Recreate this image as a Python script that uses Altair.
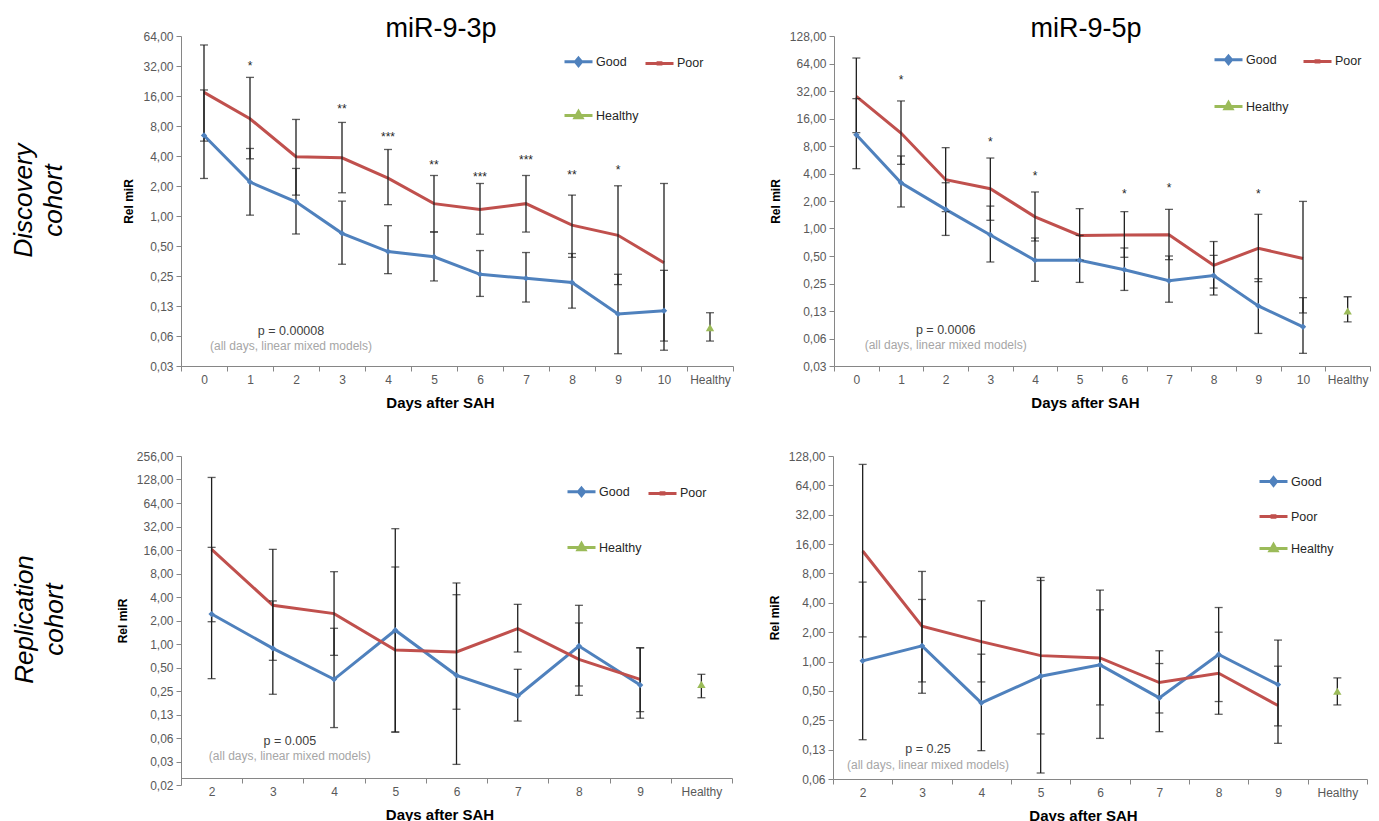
import altair as alt
import pandas as pd

FONT = "Liberation Sans"
BLUE = "#4F81BD"
RED = "#C0504D"
GREEN = "#9BBB59"
BAR = "#1f1f1f"

SERIES = ["Good", "Poor", "Healthy"]
SERIES_COLORS = [BLUE, RED, GREEN]
LEGEND_SYMBOLS = [
    "M-1,0L1,0M0,-0.27L0.22,0L0,0.27L-0.22,0Z",
    "M-1,0L1,0M-0.1,-0.05L0.1,-0.05L0.1,0.05L-0.1,0.05Z",
    "M-1,0L1,0M0,-0.28L0.25,0.16L-0.25,0.16Z",
]

# ---------------- Discovery cohort, miR-9-3p ----------------
P1_DAYS = ["0", "1", "2", "3", "4", "5", "6", "7", "8", "9", "10"]
P1_GOOD = [6.43, 2.19, 1.39, 0.67, 0.44, 0.39, 0.26, 0.237, 0.215, 0.104, 0.112]
P1_GOOD_LO = [2.38, 1.02, 0.66, 0.328, 0.264, 0.223, 0.156, 0.137, 0.119, 0.0415, 0.045]
P1_GOOD_HI = [18.4, 4.76, 3.0, 1.41, 0.80, 0.69, 0.45, 0.43, 0.42, 0.26, 0.285]
P1_POOR = [17.4, 9.46, 3.93, 3.84, 2.40, 1.33, 1.16, 1.33, 0.81, 0.64, 0.34]
P1_POOR_LO = [5.64, 3.75, 1.62, 1.71, 1.30, 0.693, 0.656, 0.69, 0.385, 0.205, 0.0556]
P1_POOR_HI = [52.0, 24.6, 9.31, 8.69, 4.65, 2.55, 2.12, 2.55, 1.62, 2.01, 2.12]
P1_HEALTHY = [0.076, 0.0556, 0.107]  # mean, low, high
P1_STAR_DAYS = ["1", "3", "4", "5", "6", "7", "8", "9"]
P1_STAR_Y = [35.3, 13.0, 6.84, 3.55, 2.73, 3.96, 2.8, 3.14]
P1_STAR_TXT = ["*", "**", "***", "**", "***", "***", "**", "*"]
P1_YTICKS = [64, 32, 16, 8, 4, 2, 1, 0.5, 0.25, 0.125, 0.0625, 0.03125]
P1_YLABELS = ["64,00", "32,00", "16,00", "8,00", "4,00", "2,00", "1,00", "0,50", "0,25", "0,13", "0,06", "0,03"]
P1_P_TEXT = ["p = 0.00008", "(all days, linear mixed models)"]
P1_P_DAY = "2"
P1_P_Y = [0.0697, 0.0491]

# ---------------- Discovery cohort, miR-9-5p ----------------
P2_DAYS = ["0", "1", "2", "3", "4", "5", "6", "7", "8", "9", "10"]
P2_GOOD = [10.6, 3.17, 1.62, 0.85, 0.448, 0.448, 0.354, 0.268, 0.305, 0.142, 0.084]
P2_GOOD_LO = [4.52, 1.72, 0.84, 0.43, 0.264, 0.257, 0.21, 0.156, 0.187, 0.071, 0.043]
P2_GOOD_HI = [26.4, 6.22, 3.17, 1.76, 0.787, 0.84, 0.612, 0.5, 0.508, 0.282, 0.175]
P2_POOR = [28.0, 11.1, 3.42, 2.73, 1.34, 0.84, 0.85, 0.855, 0.395, 0.607, 0.47]
P2_POOR_LO = [11.2, 5.04, 1.53, 1.23, 0.73, 0.45, 0.484, 0.456, 0.223, 0.262, 0.119]
P2_POOR_HI = [73.5, 24.9, 7.67, 5.91, 2.51, 1.65, 1.53, 1.62, 0.72, 1.43, 1.98]
P2_HEALTHY = [0.125, 0.095, 0.179]
P2_STAR_DAYS = ["1", "3", "4", "6", "7", "9"]
P2_STAR_Y = [46.7, 9.87, 4.19, 2.62, 3.04, 2.62]
P2_STAR_TXT = ["*", "*", "*", "*", "*", "*"]
P2_YTICKS = [128, 64, 32, 16, 8, 4, 2, 1, 0.5, 0.25, 0.125, 0.0625, 0.03125]
P2_YLABELS = ["128,00", "64,00", "32,00", "16,00", "8,00", "4,00", "2,00", "1,00", "0,50", "0,25", "0,13", "0,06", "0,03"]
P2_P_TEXT = ["p = 0.0006", "(all days, linear mixed models)"]
P2_P_DAY = "2"
P2_P_Y = [0.077, 0.0525]

# ---------------- Replication cohort, miR-9-3p ----------------
P3_DAYS = ["2", "3", "4", "5", "6", "7", "8", "9"]
P3_GOOD = [2.42, 0.88, 0.353, 1.50, 0.397, 0.216, 0.943, 0.298]
P3_GOOD_LO = [0.36, 0.227, 0.085, 0.0745, 0.0287, 0.103, 0.29, 0.112]
P3_GOOD_HI = [17.3, 3.56, 1.59, 30.0, 6.05, 0.474, 3.13, 0.89]
P3_POOR = [16.3, 3.13, 2.45, 0.838, 0.79, 1.57, 0.636, 0.353]
P3_POOR_LO = [1.93, 0.618, 0.716, 0.0745, 0.146, 0.79, 0.22, 0.136]
P3_POOR_HI = [136.0, 16.3, 8.44, 9.69, 4.28, 3.22, 1.86, 0.898]
P3_HEALTHY = [0.305, 0.205, 0.409]
P3_YTICKS = [256, 128, 64, 32, 16, 8, 4, 2, 1, 0.5, 0.25, 0.125, 0.0625, 0.03125, 0.015625]
P3_YLABELS = ["256,00", "128,00", "64,00", "32,00", "16,00", "8,00", "4,00", "2,00", "1,00", "0,50",
              "0,25", "0,13", "0,06", "0,03", "0,02"]
P3_P_TEXT = ["p = 0.005", "(all days, linear mixed models)"]
P3_P_DAY = "3"
P3_P_Y = [0.057, 0.0368]

# ---------------- Replication cohort, miR-9-5p ----------------
P4_DAYS = ["2", "3", "4", "5", "6", "7", "8", "9"]
P4_GOOD = [1.016, 1.45, 0.377, 0.707, 0.924, 0.424, 1.18, 0.58]
P4_GOOD_LO = [0.158, 0.473, 0.122, 0.072, 0.163, 0.191, 0.389, 0.219]
P4_GOOD_HI = [6.52, 4.33, 1.19, 6.78, 5.4, 0.954, 3.58, 1.66]
P4_POOR = [13.6, 2.31, 1.60, 1.15, 1.09, 0.609, 0.759, 0.354]
P4_POOR_LO = [1.79, 0.618, 0.618, 0.181, 0.359, 0.297, 0.288, 0.145]
P4_POOR_HI = [105.0, 8.39, 4.19, 7.28, 3.39, 1.29, 2.0, 0.896]
P4_HEALTHY = [0.496, 0.359, 0.68]
P4_YTICKS = [128, 64, 32, 16, 8, 4, 2, 1, 0.5, 0.25, 0.125, 0.0625]
P4_YLABELS = ["128,00", "64,00", "32,00", "16,00", "8,00", "4,00", "2,00", "1,00", "0,50", "0,25", "0,13", "0,06"]
P4_P_TEXT = ["p = 0.25", "(all days, linear mixed models)"]
P4_P_DAY = "3"
P4_P_Y = [0.127, 0.0877]

TITLES = ["miR-9-3p", "miR-9-5p"]
ROW_TITLES = [["Discovery", "cohort"], ["Replication", "cohort"]]


def series_frame(days, name, vals, los, his):
    return pd.DataFrame({"day": days, "series": name, "value": vals, "lo": los, "hi": his,
                         "idx": list(range(len(days)))})


def make_panel(days, good, good_lo, good_hi, poor, poor_lo, poor_hi, healthy,
               yticks, ylabels, p_text, p_day, p_y, p_dx,
               width, height, legend_x, legend_y, legend_cols, legend_rowpad, legend_colpad,
               star_days=None, star_y=None, star_txt=None, title=None, x_offset=0):
    cats = days + ["Healthy"]
    good_df = series_frame(days, "Good", good, good_lo, good_hi)
    poor_df = series_frame(days, "Poor", poor, poor_lo, poor_hi)
    healthy_df = series_frame(["Healthy"], "Healthy", [healthy[0]], [healthy[1]], [healthy[2]])
    all_df = pd.concat([good_df, poor_df, healthy_df], ignore_index=True)

    X = alt.X("day:N", sort=cats, bandPosition=0.5,
              scale=alt.Scale(type="band", domain=cats, paddingInner=0, paddingOuter=0),
              axis=alt.Axis(title="Days after SAH", tickBand="extent", labelAngle=0,
                            labelPadding=3, titleFontSize=15, titleFontWeight="bold",
                            titleColor="black", titleX=width / 2 - 17, titleY=29,
                            titleBaseline="top", titleAlign="center", offset=x_offset))
    expr = ("[" + ",".join(repr(l) for l in ylabels) + "][indexof(["
            + ",".join(repr(float(t)) for t in yticks) + "], datum.value)]")

    def Y(field):
        return alt.Y(f"{field}:Q",
                     scale=alt.Scale(type="log", base=2, domain=[min(yticks), max(yticks)], nice=False),
                     axis=alt.Axis(title="Rel miR", values=yticks, labelExpr=expr,
                                   titleFontSize=12, titleFontWeight="bold", titleColor="black",
                                   titlePadding=7, labelPadding=3))

    layers = []
    for df, col in ((good_df, BLUE), (poor_df, RED)):
        layers.append(alt.Chart(df).mark_line(color=col, strokeWidth=3)
                      .encode(x=X, y=Y("value"), order="idx:Q"))
    layers.append(alt.Chart(all_df).mark_rule(color=BAR, strokeWidth=1.3)
                  .encode(x=X, y=Y("lo"), y2="hi:Q"))
    layers.append(alt.Chart(all_df).mark_tick(color=BAR, size=8, thickness=1.3)
                  .encode(x=X, y=Y("lo")))
    layers.append(alt.Chart(all_df).mark_tick(color=BAR, size=8, thickness=1.3)
                  .encode(x=X, y=Y("hi")))
    layers.append(alt.Chart(good_df).mark_point(shape="diamond", filled=True, size=40,
                                                color=BLUE, opacity=1)
                  .encode(x=X, y=Y("value")))
    layers.append(alt.Chart(healthy_df).mark_point(shape="triangle-up", filled=True, size=70,
                                                   color=GREEN, opacity=1)
                  .encode(x=X, y=Y("value")))
    if star_days:
        star_df = pd.DataFrame({"day": star_days, "y": star_y, "label": star_txt})
        layers.append(alt.Chart(star_df).mark_text(fontSize=12, color="#262626", dy=4)
                      .encode(x=X, y=Y("y"), text="label:N"))
    p_df1 = pd.DataFrame({"day": [p_day], "y": [p_y[0]], "label": [p_text[0]]})
    p_df2 = pd.DataFrame({"day": [p_day], "y": [p_y[1]], "label": [p_text[1]]})
    layers.append(alt.Chart(p_df1).mark_text(fontSize=12.5, color="#404040", dx=p_dx)
                  .encode(x=X, y=Y("y"), text="label:N"))
    layers.append(alt.Chart(p_df2).mark_text(fontSize=12, color="#A6A6A6", dx=p_dx)
                  .encode(x=X, y=Y("y"), text="label:N"))

    leg = alt.Legend(title=None, orient="none", legendX=legend_x, legendY=legend_y,
                     direction="horizontal", columns=legend_cols, rowPadding=legend_rowpad,
                     columnPadding=legend_colpad, symbolSize=784, symbolStrokeWidth=3, labelFont=FONT,
                     labelFontSize=12.5, labelColor="#262626", labelOffset=2, padding=0)
    layers.append(alt.Chart(all_df).transform_filter("false")
                  .mark_point(strokeWidth=3, opacity=1)
                  .encode(color=alt.Color("series:N", scale=alt.Scale(domain=SERIES, range=SERIES_COLORS),
                                          legend=leg),
                          shape=alt.Shape("series:N", scale=alt.Scale(domain=SERIES, range=LEGEND_SYMBOLS),
                                          legend=leg)))

    chart = alt.layer(*layers).properties(width=width, height=height)
    if title:
        chart = chart.properties(title=alt.TitleParams(title, fontSize=27, font=FONT, fontWeight="normal",
                                                       color="black", anchor="middle", frame="group",
                                                       offset=-34, dx=-16, baseline="alphabetic"))
    return chart


p1 = make_panel(P1_DAYS, P1_GOOD, P1_GOOD_LO, P1_GOOD_HI, P1_POOR, P1_POOR_LO, P1_POOR_HI, P1_HEALTHY,
                P1_YTICKS, P1_YLABELS, P1_P_TEXT, P1_P_DAY, P1_P_Y, -5,
                552, 330, 382, 10, 2, 28, 0, P1_STAR_DAYS, P1_STAR_Y, P1_STAR_TXT, TITLES[0])
p2 = make_panel(P2_DAYS, P2_GOOD, P2_GOOD_LO, P2_GOOD_HI, P2_POOR, P2_POOR_LO, P2_POOR_HI, P2_HEALTHY,
                P2_YTICKS, P2_YLABELS, P2_P_TEXT, P2_P_DAY, P2_P_Y, 0,
                536, 330, 379, 8, 2, 21, 8, P2_STAR_DAYS, P2_STAR_Y, P2_STAR_TXT, TITLES[1])
p3 = make_panel(P3_DAYS, P3_GOOD, P3_GOOD_LO, P3_GOOD_HI, P3_POOR, P3_POOR_LO, P3_POOR_HI, P3_HEALTHY,
                P3_YTICKS, P3_YLABELS, P3_P_TEXT, P3_P_DAY, P3_P_Y, 17,
                551, 329, 385, 20, 2, 30, 0, x_offset=-7)
p4 = make_panel(P4_DAYS, P4_GOOD, P4_GOOD_LO, P4_GOOD_HI, P4_POOR, P4_POOR_LO, P4_POOR_HI, P4_HEALTHY,
                P4_YTICKS, P4_YLABELS, P4_P_TEXT, P4_P_DAY, P4_P_Y, 6,
                534, 323, 425, 10, 1, 9, 8)


def row(a, b, title, offset, dx):
    return (alt.hconcat(a, b, spacing=35)
            .resolve_scale(x="independent", y="independent", color="independent", shape="independent")
            .resolve_legend(color="independent", shape="independent")
            .properties(title=alt.TitleParams(title, orient="left", anchor="middle", fontSize=26,
                                              fontStyle="italic", fontWeight="normal", font=FONT,
                                              color="black", offset=offset, lineHeight=30, dx=dx)))


chart = (alt.vconcat(row(p1, p2, ROW_TITLES[0], 56, 12), row(p3, p4, ROW_TITLES[1], 48, 17), spacing=40)
         .resolve_scale(x="independent", y="independent", color="independent", shape="independent")
         .resolve_legend(color="independent", shape="independent")
         .properties(padding={"left": 2, "top": 7, "right": 0, "bottom": 0})
         .configure_view(strokeWidth=0)
         .configure_axis(domainColor="#868686", tickColor="#868686", labelColor="#595959",
                         labelFont=FONT, titleFont=FONT, labelFontSize=12, grid=False, tickSize=5)
         .configure_text(font=FONT))

chart.save("out.html", embed_options={"renderer": "svg", "actions": False})
